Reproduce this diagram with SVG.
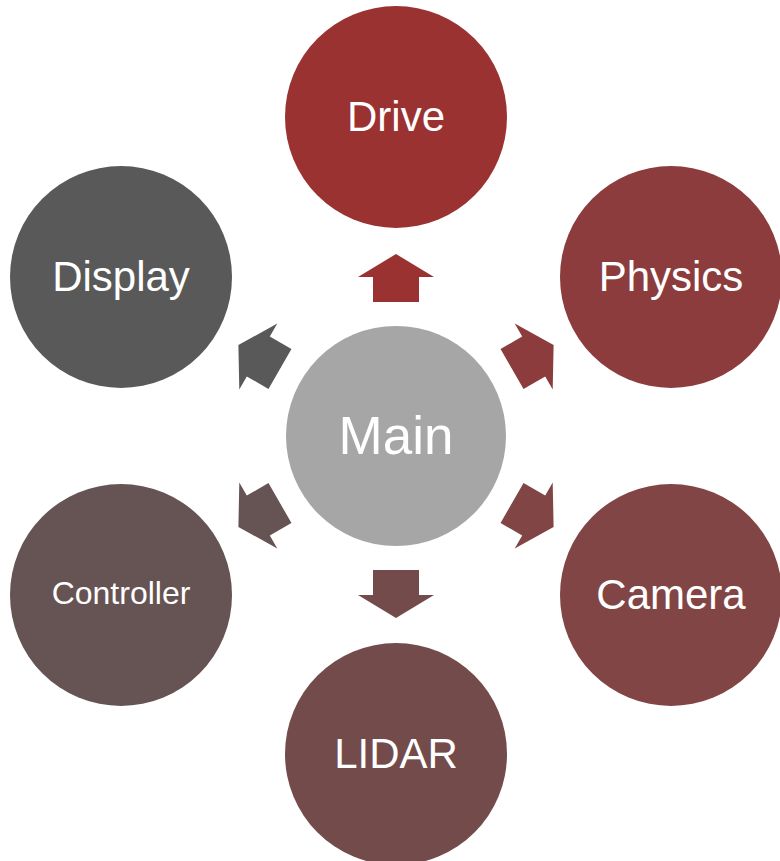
<svg xmlns="http://www.w3.org/2000/svg" width="780" height="861" viewBox="0 0 780 861">
<defs>
<style>
text{font-family:"Liberation Sans",Arial,sans-serif;fill:#fff;text-anchor:middle}
.lg{font-size:42px}
</style>
<polygon id="arr" points="396,254 434,277 419,277 419,302 373,302 373,277 358,277"/>
</defs>
<rect width="780" height="861" fill="#fff"/>
<g id="connectors">
<use href="#arr" fill="#9B3232"/>
<use href="#arr" fill="#8C3C3C" transform="rotate(60 396 436)"/>
<use href="#arr" fill="#824545" transform="rotate(120 396 436)"/>
<use href="#arr" fill="#734B4B" transform="rotate(180 396 436)"/>
<use href="#arr" fill="#665353" transform="rotate(240 396 436)"/>
<use href="#arr" fill="#595959" transform="rotate(300 396 436)"/>
</g>
<g id="main"><circle cx="396" cy="436" r="110" fill="#A6A6A6"/><text x="396" y="454" style="font-size:53px">Main</text></g>
<g id="drive"><circle cx="396" cy="117" r="111" fill="#9B3232"/><text class="lg" x="396" y="131">Drive</text></g>
<g id="physics"><circle cx="671" cy="277" r="111" fill="#8C3C3C"/><text class="lg" x="671" y="291">Physics</text></g>
<g id="camera"><circle cx="671" cy="595" r="111" fill="#824545"/><text class="lg" x="671" y="609">Camera</text></g>
<g id="lidar"><circle cx="396" cy="754" r="111" fill="#734B4B"/><text class="lg" x="396" y="768">LIDAR</text></g>
<g id="controller"><circle cx="121" cy="595" r="111" fill="#665353"/><text x="121" y="604" style="font-size:32px">Controller</text></g>
<g id="display"><circle cx="121" cy="277" r="111" fill="#595959"/><text class="lg" x="121" y="291">Display</text></g>
</svg>
